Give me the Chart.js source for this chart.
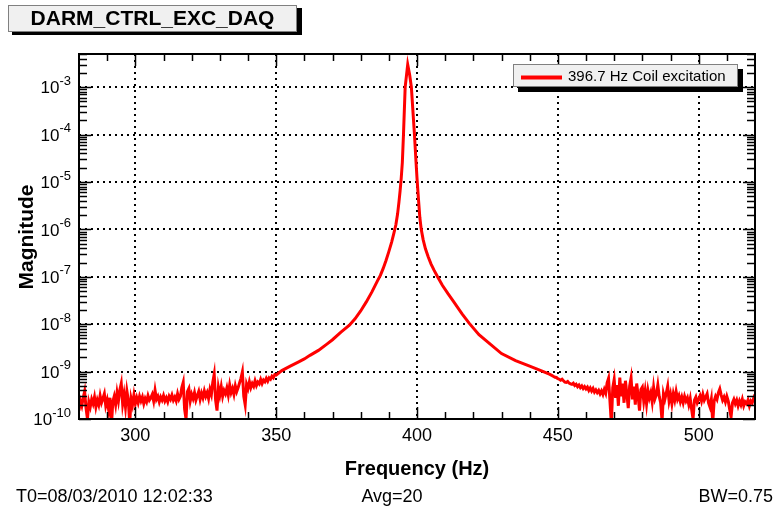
<!DOCTYPE html>
<html lang="en">
<head>
<meta charset="UTF-8">
<title>DARM_CTRL_EXC_DAQ</title>
<script src="https://cdn.jsdelivr.net/npm/chart.js"></script>
<style>
*{
  margin: 0;
  padding: 0;
  box-sizing: border-box;
}
body{ background: #fff; }
#wrap{ width: 778px; height: 513px; position: relative; }
</style>
</head>
<body>
<div id="wrap"><canvas id="spectrum"></canvas></div>
<script>
// noise floor values below are in units of 1e-10
const floorUnit = 1e-10;

// low side noise floor, 280 - 350 Hz
const lowFloorHz = [
  280, 280.5, 281, 281.5, 282, 282.5, 283, 283.5, 284, 284.5,
  285, 285.5, 286, 286.5, 287, 287.5, 288, 288.5, 289, 289.5,
  290, 290.5, 291, 291.5, 292, 292.5, 293, 293.5, 294, 294.5,
  295, 295.5, 296, 296.5, 297, 297.5, 298, 298.5, 299, 299.5,
  300, 300.5, 301, 301.5, 302, 302.5, 303, 303.5, 304, 304.5,
  305, 305.5, 306, 306.5, 307, 307.5, 308, 308.5, 309, 309.5,
  310, 310.5, 311, 311.5, 312, 312.5, 313, 313.5, 314, 314.5,
  315, 315.5, 316, 316.5, 317, 317.5, 318, 318.5, 319, 319.5,
  320, 320.5, 321, 321.5, 322, 322.5, 323, 323.5, 324, 324.5,
  325, 325.5, 326, 326.5, 327, 327.5, 328, 328.5, 329, 329.5,
  330, 330.5, 331, 331.5, 332, 332.5, 333, 333.5, 334, 334.5,
  335, 335.5, 336, 336.5, 337, 337.5, 338, 338.5, 339, 339.5,
  340, 340.5, 341, 341.5, 342, 342.5, 343, 343.5, 344, 344.5,
  345, 345.5, 346, 346.5, 347, 347.5, 348, 348.5, 349, 349.5,
  350
];
const lowFloorMag = [
  1.5, 2.4, 1.9, 2.8, 3.8, 1.7, 1.0, 2.3, 1.8, 2.6,
  2.1, 2.9, 1.8, 2.5, 2.0, 3.1, 2.2, 2.7, 3.4, 1.9,
  2.5, 1.6, 2.8, 0.7, 2.3, 3.0, 2.0, 3.6, 2.4, 4.1,
  5.6, 2.1, 3.3, 1.8, 3.9, 2.5, 0.8, 2.7, 2.0, 3.2,
  2.1, 2.8, 2.2, 3.0, 2.4, 2.9, 2.1, 2.7, 2.3, 3.1,
  2.5, 2.8, 3.3, 2.4, 4.0, 2.6, 3.0, 2.3, 2.9, 2.5,
  3.1, 2.4, 2.8, 2.3, 3.0, 2.6, 3.2, 2.5, 2.9, 2.4,
  3.4, 2.6, 3.0, 4.6, 5.9, 1.6, 1.0, 3.8, 4.4, 2.4,
  3.3, 2.7, 3.6, 2.5, 3.1, 3.8, 2.6, 3.5, 2.8, 3.9,
  3.0, 3.6, 2.7, 4.2, 3.3, 6.0, 8.8, 2.5, 1.5, 4.6,
  3.2, 4.8, 3.0, 4.0, 3.4, 4.5, 3.2, 5.2, 3.6, 4.4,
  3.3, 5.0, 3.8, 4.6, 5.8, 7.2, 9.8, 3.0, 2.0, 5.4,
  4.4, 6.1, 4.6, 5.6, 4.9, 6.4, 5.1, 6.0, 5.5, 6.8,
  5.6, 6.6, 6.1, 7.2, 6.3, 7.4, 6.9, 8.0, 7.4, 8.6,
  8.4
];

// resonance around the 396.7 Hz line
const peakHz = [
  352, 355, 358, 360, 362, 365, 368, 370, 373, 376,
  378, 380, 382, 384, 386, 387, 388, 389, 390, 391,
  391.8, 392.5, 393.1, 393.6, 394, 394.4, 394.8, 395.2, 395.8, 396.7,
  397.4, 398, 399.1, 399.6, 400, 400.5, 401, 401.5, 402.2, 403,
  404, 405, 406, 407.3, 409, 411, 413, 416, 418.5, 422,
  426, 430, 435, 440, 444, 447
];
const peakMag = [
  1.05e-9, 1.3e-9, 1.6e-9, 1.85e-9, 2.2e-9, 2.8e-9, 3.8e-9, 4.7e-9, 6.8e-9, 9.5e-9,
  1.3e-8, 1.9e-8, 2.95e-8, 4.8e-8, 8.3e-8, 1.07e-7, 1.5e-7, 2.2e-7, 3.4e-7, 5.4e-7,
  8.3e-7, 1.25e-6, 2.1e-6, 3.8e-6, 6.5e-6, 1.2e-5, 2.6e-5, 1.0e-4, 1.0e-3, 3.0e-3,
  1.8e-3, 1.0e-3, 1.0e-4, 3.0e-5, 1.2e-5, 4.5e-6, 1.8e-6, 1.0e-6, 6.0e-7, 3.9e-7,
  2.6e-7, 1.85e-7, 1.4e-7, 1.0e-7, 6.6e-8, 4.4e-8, 3.0e-8, 1.65e-8, 1.05e-8, 6.0e-9,
  3.8e-9, 2.4e-9, 1.7e-9, 1.3e-9, 1.05e-9, 8.8e-10
];

// high side noise floor, 448 - 520 Hz
const highFloorHz = [
  448, 448.5, 449, 449.5, 450, 450.5, 451, 451.5, 452, 452.5,
  453, 453.5, 454, 454.5, 455, 455.5, 456, 456.5, 457, 457.5,
  458, 458.5, 459, 459.5, 460, 460.5, 461, 461.5, 462, 462.5,
  463, 463.5, 464, 464.5, 465, 465.5, 466, 466.5, 467, 467.5,
  468, 468.5, 469, 469.5, 470, 470.5, 471, 471.5, 472, 472.5,
  473, 473.5, 474, 474.5, 475, 475.5, 476, 476.5, 477, 477.5,
  478, 478.5, 479, 479.5, 480, 480.5, 481, 481.5, 482, 482.5,
  483, 483.5, 484, 484.5, 485, 485.5, 486, 486.5, 487, 487.5,
  488, 488.5, 489, 489.5, 490, 490.5, 491, 491.5, 492, 492.5,
  493, 493.5, 494, 494.5, 495, 495.5, 496, 496.5, 497, 497.5,
  498, 498.5, 499, 499.5, 500, 500.5, 501, 501.5, 502, 502.5,
  503, 503.5, 504, 504.5, 505, 505.5, 506, 506.5, 507, 507.5,
  508, 508.5, 509, 509.5, 510, 510.5, 511, 511.5, 512, 512.5,
  513, 513.5, 514, 514.5, 515, 515.5, 516, 516.5, 517, 517.5,
  518, 518.5, 519, 519.5, 520
];
const highFloorMag = [
  8.2, 7.9, 7.6, 7.5, 7.1, 6.9, 6.6, 6.9, 6.4, 6.0,
  5.9, 6.2, 5.7, 5.5, 5.4, 5.7, 5.1, 5.4, 4.8, 5.2,
  4.6, 5.0, 4.4, 4.8, 4.3, 4.7, 4.0, 4.5, 3.9, 4.4,
  3.7, 4.1, 3.6, 4.0, 3.4, 3.9, 3.3, 4.2, 3.5, 5.8,
  7.2, 2.4, 0.8, 4.6, 6.8, 2.8, 5.2, 1.9, 7.5, 3.0,
  5.6, 2.2, 6.4, 3.4, 1.7, 5.0, 7.3, 2.6, 4.8, 2.0,
  5.6, 3.1, 1.5, 4.2, 4.7, 2.4, 3.9, 2.1, 4.0, 2.8,
  3.6, 2.3, 4.6, 2.7, 3.3, 5.2, 3.0, 2.2, 0.9, 3.4,
  2.6, 3.5, 4.9, 2.4, 3.3, 2.1, 3.4, 2.5, 3.8, 2.6,
  3.1, 2.3, 2.9, 2.2, 3.0, 2.4, 2.8, 2.0, 2.7, 1.6,
  1.0, 2.5, 2.9, 2.2, 2.6, 3.1, 2.4, 3.3, 2.5, 2.9,
  3.4, 2.2, 1.8, 2.6, 0.85, 2.4, 3.0, 2.6, 3.6, 4.3,
  3.2, 2.5, 2.9, 2.3, 3.0, 2.4, 1.6, 1.1, 2.2, 2.6,
  2.1, 2.5, 1.9, 2.4, 2.0, 2.6, 1.9, 2.3, 2.1, 2.5,
  1.9, 2.4, 2.2, 2.7, 3.3
];

const xTicks = [300, 350, 400, 450, 500];
const yTickPowers = [-10, -9, -8, -7, -6, -5, -4, -3];
const xRange = [280, 520];
const yRange = [1e-10, 5e-3];

const plotTitle = 'DARM_CTRL_EXC_DAQ';
const seriesLabel = '396.7 Hz Coil excitation';
const footerText = ['T0=08/03/2010 12:02:33', 'Avg=20', 'BW=0.75'];

const allHz = [...lowFloorHz, ...peakHz, ...highFloorHz];
const allMag = [
  ...lowFloorMag.map(v => v * floorUnit),
  ...peakMag,
  ...highFloorMag.map(v => v * floorUnit)
];

const FAM = '"Liberation Sans", Arial, sans-serif';
Chart.defaults.font.family = FAM;

function line(ctx, x1, y1, x2, y2){
  ctx.beginPath();
  ctx.moveTo(x1, y1);
  ctx.lineTo(x2, y2);
  ctx.stroke();
}

// ROOT-ish frame: inner ticks, frame, superscript labels, boxes and text
const rootFrame = {
  id: 'rootFrame',
  afterDraw(chart){
    const ctx = chart.ctx;
    const a = chart.chartArea;
    const x = chart.scales.x, y = chart.scales.y;
    ctx.save();
    ctx.strokeStyle = '#000';
    ctx.lineWidth = 1.5;

    // x ticks, top and bottom
    for (let f = 290; f <= 510; f += 10){
      const px = Math.round(x.getPixelForValue(f)) + 0.5;
      const len = f % 50 === 0 ? 12 : 7;
      line(ctx, px, a.bottom, px, a.bottom - len);
      line(ctx, px, a.top, px, a.top + len);
    }
    // y ticks, left and right
    yTickPowers.forEach(p => {
      for (let k = 1; k <= 9; k++){
        const v = k * Math.pow(10, p);
        if (v > yRange[1]) break;
        const py = Math.round(y.getPixelForValue(v)) + 0.5;
        const len = k === 1 ? 12 : 8;
        line(ctx, a.left, py, a.left + len, py);
        line(ctx, a.right, py, a.right - len, py);
      }
    });

    // frame
    ctx.lineWidth = 2;
    ctx.strokeRect(a.left, a.top, a.right - a.left, a.bottom - a.top);

    // y labels 10^n
    ctx.fillStyle = '#000';
    ctx.textAlign = 'right';
    ctx.textBaseline = 'middle';
    yTickPowers.forEach(p => {
      const py = y.getPixelForValue(Math.pow(10, p));
      const exp = String(p);
      ctx.font = '13px ' + FAM;
      const ew = ctx.measureText(exp).width;
      ctx.fillText(exp, 71, py - 6);
      ctx.font = '17px ' + FAM;
      ctx.fillText('10', 71 - ew, py + 1.5);
    });

    // axis titles
    ctx.textAlign = 'center';
    ctx.font = 'bold 20px ' + FAM;
    ctx.fillText('Frequency (Hz)', 417, 469);
    ctx.save();
    ctx.translate(27, 237);
    ctx.rotate(-Math.PI / 2);
    ctx.font = 'bold 21px ' + FAM;
    ctx.fillText('Magnitude', 0, 0);
    ctx.restore();

    // title box
    ctx.fillStyle = '#000';
    ctx.fillRect(12, 8, 290, 27);
    ctx.fillStyle = '#f0f0f0';
    ctx.fillRect(8, 5, 289, 27);
    ctx.strokeStyle = '#808080';
    ctx.lineWidth = 1;
    ctx.strokeRect(8.5, 5.5, 288, 26);
    ctx.fillStyle = '#000';
    ctx.font = 'bold 21px ' + FAM;
    ctx.fillText(plotTitle, 152.5, 19.5);

    // legend box
    ctx.fillStyle = '#000';
    ctx.fillRect(518, 69, 225, 23);
    ctx.fillStyle = '#f0f0f0';
    ctx.fillRect(513, 64, 225, 23);
    ctx.strokeStyle = '#808080';
    ctx.strokeRect(513.5, 64.5, 224, 22);
    ctx.strokeStyle = '#ff0000';
    ctx.lineWidth = 4;
    line(ctx, 521, 77.5, 562, 77.5);
    ctx.fillStyle = '#000';
    ctx.textAlign = 'left';
    ctx.font = '15px ' + FAM;
    ctx.fillText(seriesLabel, 568, 77);

    // footer
    ctx.font = '18px ' + FAM;
    ctx.textAlign = 'left';
    ctx.fillText(footerText[0], 16, 497);
    ctx.textAlign = 'center';
    ctx.fillText(footerText[1], 392, 497);
    ctx.textAlign = 'right';
    ctx.fillText(footerText[2], 773, 497);

    ctx.restore();
  }
};

new Chart(document.getElementById('spectrum'), {
  type: 'line',
  data: {
    datasets: [{
      label: seriesLabel,
      data: allHz.map((f, i) => ({ x: f, y: allMag[i] })),
      borderColor: '#ff0000',
      backgroundColor: '#ff0000',
      borderWidth: 3,
      pointRadius: 0,
      tension: 0,
      fill: false
    }]
  },
  options: {
    responsive: true,
    maintainAspectRatio: false,
    animation: false,
    layout: { padding: { top: 54, right: 23, bottom: 0, left: 0 } },
    plugins: {
      legend: { display: false },
      tooltip: { enabled: false }
    },
    scales: {
      x: {
        type: 'linear',
        min: xRange[0],
        max: xRange[1],
        afterBuildTicks: s => { s.ticks = xTicks.map(v => ({ value: v })); },
        afterFit: s => { s.height = 94; },
        grid: { color: '#000', lineWidth: 2, drawTicks: false },
        border: { display: false, dash: [2, 4] },
        ticks: { color: '#000', font: { size: 18 }, padding: 6, maxRotation: 0, autoSkip: false }
      },
      y: {
        type: 'logarithmic',
        min: yRange[0],
        max: yRange[1],
        afterBuildTicks: s => { s.ticks = yTickPowers.map(p => ({ value: Math.pow(10, p) })); },
        afterFit: s => { s.width = 79; },
        grid: { color: '#000', lineWidth: 2, drawTicks: false },
        border: { display: false, dash: [2, 4] },
        ticks: { display: false }
      }
    }
  },
  plugins: [rootFrame]
});
</script>
</body>
</html>
